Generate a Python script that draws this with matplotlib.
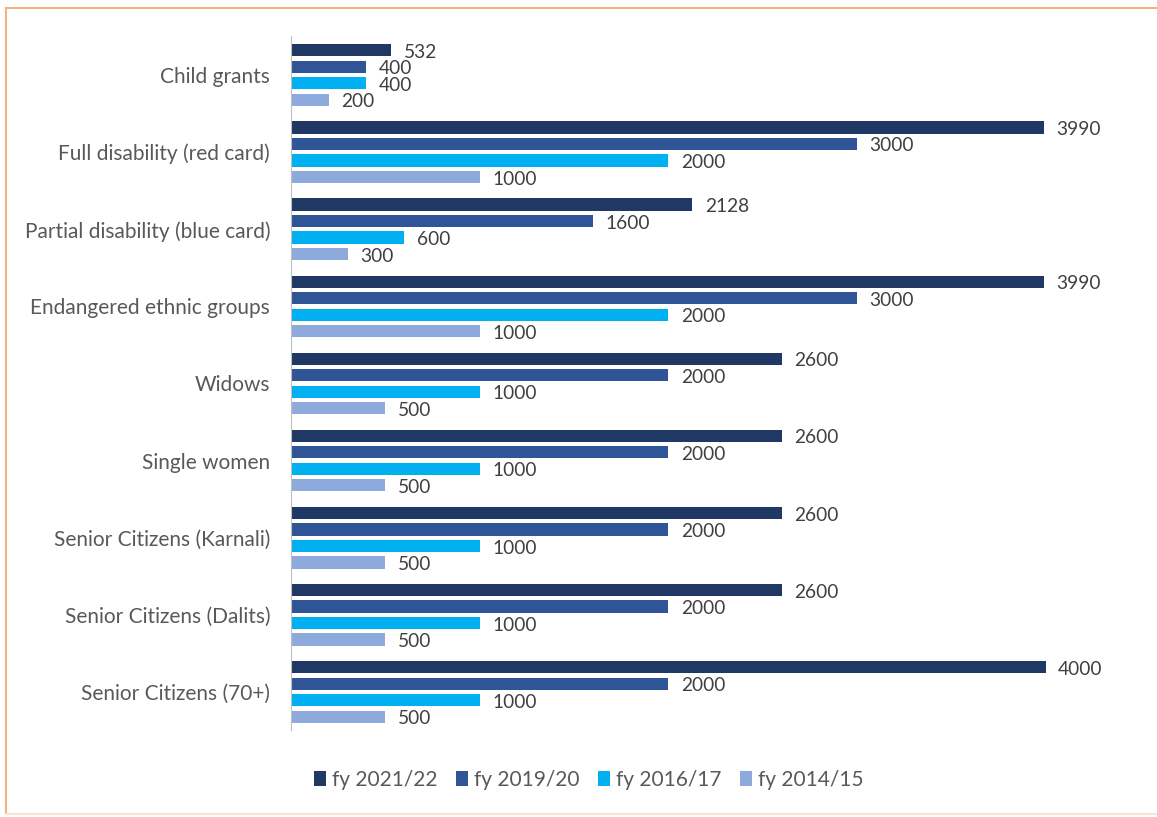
import numpy as np
import matplotlib.pyplot as plt
from matplotlib.lines import Line2D

# Data (top to bottom)
categories = ['Child grants', 'Full disability (red card)', 'Partial disability (blue card)',
              'Endangered ethnic groups', 'Widows', 'Single women',
              'Senior Citizens (Karnali)', 'Senior Citizens (Dalits)', 'Senior Citizens (70+)']
fy_2021_22 = [532, 3990, 2128, 3990, 2600, 2600, 2600, 2600, 4000]
fy_2019_20 = [400, 3000, 1600, 3000, 2000, 2000, 2000, 2000, 2000]
fy_2016_17 = [400, 2000, 600, 2000, 1000, 1000, 1000, 1000, 1000]
fy_2014_15 = [200, 1000, 300, 1000, 500, 500, 500, 500, 500]
series_names = ['fy 2021/22', 'fy 2019/20', 'fy 2016/17', 'fy 2014/15']

colors = ['#1F3864', '#2F5597', '#00B0F0', '#8EA9DB']
plt.rcParams['font.family'] = ['Lato', 'DejaVu Sans']

fig = plt.figure(figsize=(11.57, 8.17), dpi=100)
ax = fig.add_axes([291 / 1157, 1 - 730.5 / 817, (1140 - 291) / 1157, (730.5 - 36.5) / 817])

y = np.arange(len(categories))
step = 0.214
bar_h = 0.158
all_series = [fy_2021_22, fy_2019_20, fy_2016_17, fy_2014_15]
for i, (vals, name, col) in enumerate(zip(all_series, series_names, colors)):
    pos = y + (i - 1.5) * step
    ax.barh(pos, vals, height=bar_h, color=col, label=name)
    for p, v in zip(pos, vals):
        ax.annotate(str(v), (v, p), xytext=(9, -1.5), textcoords='offset points',
                    va='center', ha='left', fontsize=13.8, color='#404040')

ax.set_xlim(0, 4500)
ax.set_ylim(len(categories) - 0.5, -0.5)
ax.set_yticks(y)
ax.set_yticklabels(categories, fontsize=15, color='#595959')
ax.tick_params(axis='y', length=0, pad=15)
ax.set_xticks([])
for s in ['top', 'right', 'bottom']:
    ax.spines[s].set_visible(False)
ax.spines['left'].set_color('#BFBFBF')

fig.legend(loc='center', bbox_to_anchor=(589 / 1157, 1 - 780 / 817), ncol=4, frameon=False,
           fontsize=15, handlelength=0.55, handleheight=0.75, handletextpad=0.3,
           columnspacing=0.9, labelcolor='#595959')

# orange frame (left, top, bottom) around the chart
x0, y_top, y_bot = 6 / 1157, 1 - 8 / 817, 1 - 814 / 817
fig.add_artist(Line2D([x0, x0], [y_bot, y_top], color='#F4B183', lw=1.5, transform=fig.transFigure))
fig.add_artist(Line2D([x0, 1], [y_top, y_top], color='#F4B183', lw=1.5, transform=fig.transFigure))
fig.add_artist(Line2D([x0, 1], [y_bot, y_bot], color='#FBE3D3', lw=1.5, transform=fig.transFigure))

fig.savefig('out.png', dpi=100)
